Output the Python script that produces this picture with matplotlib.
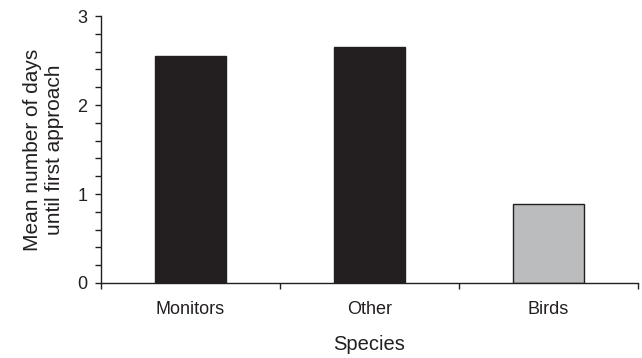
import matplotlib
matplotlib.use('Agg')
import matplotlib.pyplot as plt
import numpy as np

plt.rcParams['font.family'] = ['Liberation Sans', 'DejaVu Sans']

species = ['Monitors', 'Other', 'Birds']
mean_days = [2.55, 2.65, 0.89]
colors = ['#231f20', '#231f20', '#bbbcbe']

fig = plt.figure(figsize=(6.42, 3.58), dpi=100)
ax = fig.add_axes([0.157, 0.2095, 0.837, 0.7455])

x = np.arange(len(species))
ax.bar(x, mean_days, width=0.40, color=colors, edgecolor='#231f20', linewidth=1.0)

ax.set_xlim(-0.5, len(species) - 0.5)
ax.set_ylim(0, 3)

# y ticks: majors at integers, minors every 0.2
ax.set_yticks([0, 1, 2, 3])
ax.set_yticks(np.arange(0, 3.01, 0.2), minor=True)
ax.tick_params(axis='y', which='major', length=4.5, width=1, direction='out',
               labelsize=13, colors='#231f20', pad=5)
ax.tick_params(axis='y', which='minor', length=4.5, width=1, direction='out',
               colors='#231f20')

# x ticks at category boundaries, labels at centers
ax.set_xticks(np.arange(-0.5, len(species), 1.0))
ax.set_xticklabels([])
ax.set_xticks(x, minor=True)
ax.set_xticklabels(species, minor=True)
ax.tick_params(axis='x', which='major', length=4.5, width=1, direction='out',
               colors='#231f20')
ax.tick_params(axis='x', which='minor', length=0, labelsize=13, pad=13,
               labelcolor='#231f20')

for s in ['top', 'right']:
    ax.spines[s].set_visible(False)
for s in ['left', 'bottom']:
    ax.spines[s].set_color('#231f20')
    ax.spines[s].set_linewidth(1.0)

ax.set_xlabel('Species', fontsize=14.5, color='#231f20', labelpad=12)
ax.set_ylabel('Mean number of days\nuntil first approach', fontsize=15,
              color='#231f20', labelpad=10, linespacing=1.2)

fig.savefig('out.png', dpi=100)
